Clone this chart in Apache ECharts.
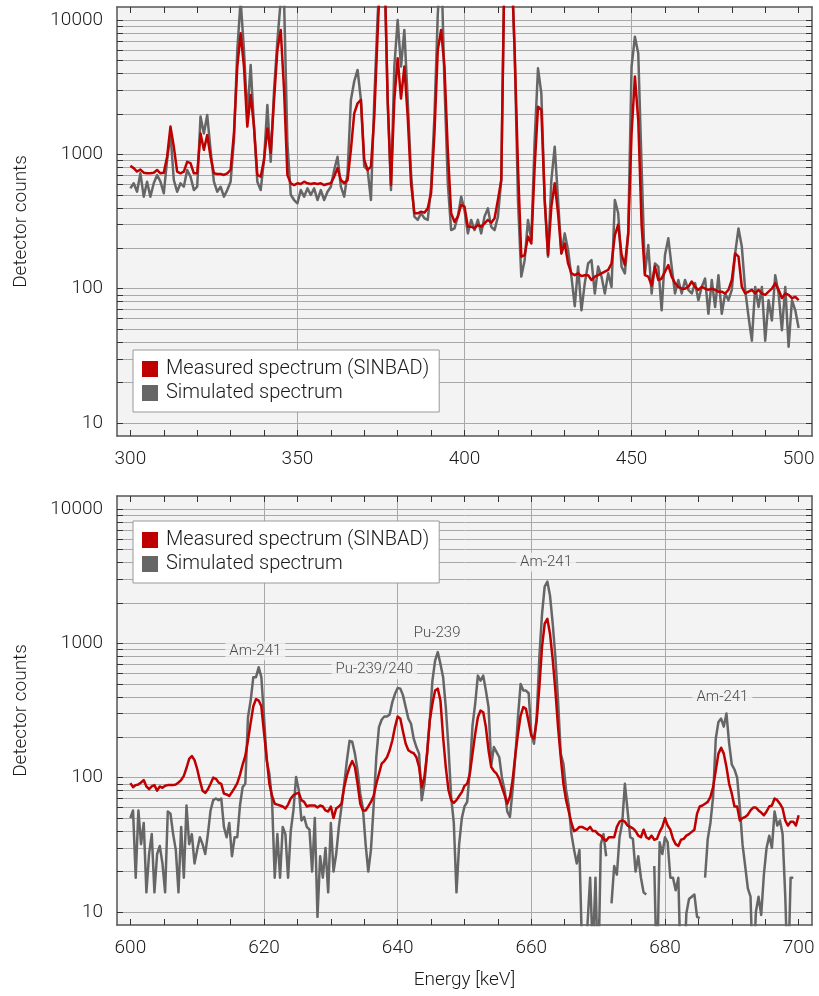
<!DOCTYPE html>
<html>
<head>
<meta charset="utf-8">
<script src="https://cdn.jsdelivr.net/npm/echarts/dist/echarts.min.js"></script>
<style>
  html, body { margin: 0; padding: 0; background: #fff; }
  #chart { width: 819px; height: 996px; }
</style>
</head>
<body>
<div id="chart"></div>
<script>
// energy bins: top panel 1 keV, bottom panel 0.4 keV
const topStart = 300, topStep = 1;
const botStart = 600, botStep = 0.4;

// top panel, 300..500 keV
const topMeasured = [
  820, 790, 745, 770, 730, 722, 722, 730, 765, 722,
  730, 960, 1610, 1140, 743, 722, 743, 880, 860, 722,
  722, 1430, 1080, 1390, 960, 722, 714, 714, 702, 722,
  765, 1430, 4500, 7960, 4500, 1610, 2770, 1610, 702, 682,
  910, 1560, 1020, 2540, 5980, 8430, 3000, 700, 609, 591,
  609, 602, 626, 609, 602, 609, 602, 609, 591, 602,
  609, 682, 790, 644, 609, 644, 1080, 2020, 2400, 2540,
  910, 765, 810, 1910, 7960, 30000, 30000, 2540, 591, 2540,
  5190, 2600, 4500, 1910, 609, 364, 364, 374, 368, 396,
  513, 1430, 5980, 8430, 4500, 1080, 364, 315, 344, 420,
  408, 289, 289, 281, 298, 289, 306, 325, 310, 334,
  457, 644, 30000, 30000, 30000, 5980, 810, 173, 178, 244,
  217, 810, 2260, 2140, 457, 178, 408, 609, 364, 183,
  217, 154, 130, 126, 130, 124, 126, 126, 116, 123,
  126, 130, 134, 138, 154, 250, 300, 180, 150, 258,
  1430, 3790, 1800, 300, 126, 123, 106, 146, 116, 119,
  134, 150, 123, 110, 103, 100, 100, 103, 113, 103,
  98, 103, 100, 98, 100, 98, 95, 95, 92, 98,
  116, 183, 173, 103, 92, 95, 98, 92, 98, 92,
  90, 95, 100, 110, 98, 85, 92, 90, 85, 87,
  82
];
const topSimulated = [
  558, 609, 527, 722, 484, 626, 484, 609, 702, 626,
  513, 910, 1430, 644, 527, 609, 574, 765, 682, 542,
  574, 1910, 1430, 1960, 1080, 626, 527, 574, 484, 542,
  626, 1280, 5980, 14000, 5980, 1910, 4630, 1610, 626, 542,
  910, 2330, 880, 3000, 7000, 14000, 14000, 1200, 500, 457,
  432, 542, 484, 558, 498, 558, 457, 542, 457, 527,
  574, 765, 960, 574, 484, 722, 2540, 3500, 4250, 2540,
  810, 765, 457, 2540, 10590, 30000, 30000, 2540, 542, 4500,
  10000, 4500, 8430, 2540, 722, 344, 325, 364, 334, 325,
  574, 1910, 11000, 30000, 3380, 609, 273, 281, 344, 484,
  385, 258, 325, 273, 325, 258, 344, 396, 289, 273,
  344, 644, 30000, 30000, 30000, 5980, 457, 123, 163, 325,
  230, 1280, 4370, 2840, 457, 173, 644, 1140, 457, 183,
  258, 194, 123, 74, 146, 69, 110, 154, 163, 92,
  146, 123, 92, 130, 103, 457, 364, 146, 130, 258,
  4500, 7520, 5650, 810, 130, 211, 92, 154, 146, 69,
  178, 237, 146, 92, 116, 92, 116, 98, 92, 110,
  82, 103, 119, 65, 116, 73, 126, 65, 92, 82,
  98, 183, 281, 205, 98, 62, 41, 103, 73, 103,
  41, 82, 58, 126, 92, 49, 103, 37, 82, 69,
  51
];

// bottom panel, 600..700 keV (null = empty bin)
const botMeasured = [
  91, 85, 88, 89, 92, 96, 86, 82, 86, 88,
  80, 86, 84, 87, 88, 88, 88, 89, 92, 96,
  103, 118, 138, 145, 135, 116, 95, 80, 77, 82,
  90, 100, 98, 92, 90, 76, 75, 73, 78, 84,
  91, 105, 125, 145, 190, 256, 340, 384, 375, 340,
  216, 140, 90, 73, 64, 63, 62, 61, 59, 63,
  70, 74, 76, 77, 68, 66, 61, 62, 62, 62,
  60, 62, 61, 57, 56, 61, 50, 59, 61, 64,
  85, 104, 120, 133, 120, 90, 64, 57, 57, 61,
  66, 73, 90, 107, 127, 133, 142, 160, 189, 238,
  285, 275, 220, 179, 160, 155, 152, 142, 120, 85,
  101, 151, 266, 355, 445, 460, 375, 200, 120, 81,
  68, 65, 68, 73, 78, 87, 90, 107, 151, 212,
  282, 316, 307, 238, 160, 120, 112, 107, 98, 85,
  74, 64, 72, 96, 147, 212, 290, 335, 325, 260,
  205, 195, 266, 471, 940, 1400, 1520, 1172, 760, 445,
  238, 142, 90, 68, 56, 46, 40, 41, 43, 43,
  42, 41, 43, 40, 40, 38, 37, 35, 34, 36,
  36, 36, 43, 47, 48, 47, 44, 43, 42, 40,
  37, 36, 41, 36, 35, 37, 34.5, 35, 39.5, 43,
  50, 44, 41, 35, 32, 31, 34.5, 35, 37, 38,
  39.5, 41, 54, 61, 62, 64, 66, 72, 85, 113,
  151, 167, 151, 120, 90, 76, 61, 61, 48, 50,
  51, 53, 57, 60, 60, 57, 55, 52.5, 56, 61,
  62, 70, 68, 64, 59, 48, 44, 47, 47, 44,
  52.5
];
const botSimulated = [
  50, 57, 18, 57, 32, 46, 14, 27, 38, 14,
  27, 31, 23, 14, 56, 54, 38, 29, 14, 43,
  18, 62, 32, 38, 23, 29, 36, 32, 27, 38,
  57, 68, 70, 68, 70, 43, 36, 46, 26, 36,
  36, 62, 85, 90, 282, 375, 560, 560, 663, 560,
  282, 134, 107, 68, 18, 38, 18, 43, 38, 18,
  40, 57, 101, 81, 48, 51, 43, 41, 20, 50,
  9.2, 26, 18, 30, 14, 46, 20, 27, 43, 61,
  90, 134, 188, 185, 151, 113, 76, 59, 32, 20,
  29, 61, 142, 238, 270, 285, 285, 295, 365, 421,
  465, 460, 410, 335, 275, 252, 195, 169, 151, 68,
  90, 151, 266, 528, 743, 860, 703, 560, 335, 169,
  72, 46, 14, 32, 50, 61, 66, 113, 245, 355,
  575, 528, 575, 445, 335, 124, 169, 155, 142, 100,
  81, 56, 51, 81, 142, 282, 499, 445, 445, 425,
  212, 179, 282, 787, 1650, 2650, 2880, 2260, 1400, 787,
  375, 151, 127, 81, 62, 38, 29, 23, 29, 5,
  3, 8, 18, 5, 18, 3, 32, 38, 26, null,
  11.6, 22, 19, 36, 46, 90, 57, 36, 35, 20,
  26, 18, 14, 13.5, null, null, 22, 3, 33, 27,
  36, 33, 18, 18, 14.5, 18, 3, 3, 9.8, 12.5,
  13, 13.5, 9.2, 9, null, 18, 35, 46, 72, 195,
  260, 275, 240, 300, 180, 125, 115, 100, 60, 32,
  22, 15, 13, 3, 10, 13, 9.5, 19, 30, 37,
  30, 56, 44, 48, 38, 13, 3, 18, 18, null,
  null
];

// axis ticks / labels
const topTicks = [300, 310, 320, 330, 340, 350, 360, 370, 380, 390, 400,
  410, 420, 430, 440, 450, 460, 470, 480, 490, 500];
const topLabels = [300, 350, 400, 450, 500];
const topGridX = [350, 400, 450];
const botTicks = [600, 605, 610, 615, 620, 625, 630, 635, 640, 645, 650,
  655, 660, 665, 670, 675, 680, 685, 690, 695, 700];
const botLabels = [600, 620, 640, 660, 680, 700];
const botGridX = [620, 640, 660, 680];
const yLabels = [10, 100, 1000, 10000];
const yTicks = [10, 20, 30, 40, 50, 60, 70, 80, 90,
  100, 200, 300, 400, 500, 600, 700, 800, 900,
  1000, 2000, 3000, 4000, 5000, 6000, 7000, 8000, 9000, 10000];

// peak annotations (bottom panel)
const peakNames = ['Am-241', 'Pu-239/240', 'Pu-239', 'Am-241', 'Am-241'];
const peakX = [618.7, 636.5, 645.9, 662.2, 688.6];
const peakY = [880, 637, 1190, 4010, 398];

const seriesNames = ['Measured spectrum (SINBAD)', 'Simulated spectrum'];
const red = '#c00000';
const gray = '#666666';
const frameColor = '#555';
const gridColor = '#a8a8a8';
const font = 'Roboto';
const textColor = '#1a1a1a';

function toPairs(start, step, values) {
  return values.map((v, i) => [+(start + i * step).toFixed(2), v == null ? '-' : v]);
}

function xAxesFor(grid, min, max, ticks, labels, gridLines, name) {
  const base = { type: 'value', gridIndex: grid, min: min, max: max };
  const frame = { show: true, onZero: false, lineStyle: { color: frameColor, width: 1.5 } };
  const tick = { show: true, inside: true, length: 6, customValues: ticks, lineStyle: { color: '#333' } };
  return [
    Object.assign({}, base, {
      position: 'bottom',
      axisLine: frame,
      axisTick: tick,
      axisLabel: { show: true, customValues: labels, margin: 14, fontSize: 19,
        fontFamily: font, fontWeight: 300, color: textColor },
      splitLine: { show: false },
      name: name,
      nameLocation: 'middle',
      nameGap: 46,
      nameTextStyle: { fontSize: 19, fontFamily: font, fontWeight: 300, color: textColor }
    }),
    Object.assign({}, base, {
      position: 'top',
      axisLine: frame,
      axisTick: tick,
      axisLabel: { show: false },
      splitLine: { show: false }
    }),
    // only used for the vertical grid lines
    Object.assign({}, base, {
      position: 'bottom',
      axisLine: { show: false },
      axisTick: { show: false, customValues: gridLines },
      axisLabel: { show: false, customValues: gridLines },
      splitLine: { show: true, lineStyle: { color: gridColor, width: 1 } }
    })
  ];
}

function yAxesFor(grid) {
  const base = { type: 'log', logBase: 10, gridIndex: grid, min: 8, max: 12500 };
  const frame = { show: true, onZero: false, lineStyle: { color: frameColor, width: 1.5 } };
  const tick = { show: true, inside: true, length: 6, customValues: yTicks, lineStyle: { color: '#333' } };
  return [
    Object.assign({}, base, {
      position: 'left',
      axisLine: frame,
      axisTick: tick,
      axisLabel: { show: true, customValues: yLabels, margin: 14, fontSize: 19,
        fontFamily: font, fontWeight: 300, color: textColor,
        formatter: v => String(Math.round(v)) },
      splitLine: { show: true, lineStyle: { color: gridColor, width: 1 } },
      name: 'Detector counts',
      nameLocation: 'middle',
      nameGap: 86,
      nameTextStyle: { fontSize: 19, fontFamily: font, fontWeight: 300, color: textColor }
    }),
    Object.assign({}, base, {
      position: 'right',
      axisLine: frame,
      axisTick: tick,
      axisLabel: { show: false },
      splitLine: { show: false }
    })
  ];
}

function legendAt(top) {
  return {
    data: seriesNames,
    left: 133,
    top: top,
    orient: 'vertical',
    icon: 'rect',
    itemWidth: 16,
    itemHeight: 16,
    itemGap: 4,
    padding: [9, 10, 9, 9],
    backgroundColor: '#fff',
    borderColor: '#999',
    borderWidth: 1,
    borderRadius: 0,
    selectedMode: false,
    textStyle: { fontSize: 20, fontFamily: font, fontWeight: 300,
      color: textColor, padding: [0, 0, 0, 3] }
  };
}

function lineSeries(name, color, data, xIdx, yIdx, z) {
  return {
    name: name,
    type: 'line',
    xAxisIndex: xIdx,
    yAxisIndex: yIdx,
    data: data,
    showSymbol: false,
    symbol: 'none',
    connectNulls: false,
    clip: true,
    z: z,
    color: color,
    lineStyle: { color: color, width: 2.5, join: 'round' },
    emphasis: { disabled: true }
  };
}

const chart = echarts.init(document.getElementById('chart'), null, { renderer: 'canvas' });

chart.setOption({
  animation: false,
  backgroundColor: '#fff',
  grid: [
    { left: 117, top: 7, width: 695, height: 429, show: true, backgroundColor: '#f3f3f3', borderWidth: 0 },
    { left: 117, top: 496, width: 695, height: 429, show: true, backgroundColor: '#f3f3f3', borderWidth: 0 }
  ],
  legend: [legendAt(350), legendAt(521)],
  xAxis: xAxesFor(0, 296, 504, topTicks, topLabels, topGridX, '')
    .concat(xAxesFor(1, 598, 702, botTicks, botLabels, botGridX, 'Energy [keV]')),
  yAxis: yAxesFor(0).concat(yAxesFor(1)),
  series: [
    lineSeries(seriesNames[1], gray, toPairs(topStart, topStep, topSimulated), 0, 0, 2),
    lineSeries(seriesNames[0], red, toPairs(topStart, topStep, topMeasured), 0, 0, 3),
    lineSeries(seriesNames[1], gray, toPairs(botStart, botStep, botSimulated), 3, 2, 2),
    lineSeries(seriesNames[0], red, toPairs(botStart, botStep, botMeasured), 3, 2, 3),
    {
      type: 'scatter',
      xAxisIndex: 3,
      yAxisIndex: 2,
      silent: true,
      z: 4,
      symbolSize: 1,
      itemStyle: { color: 'rgba(0,0,0,0)' },
      data: peakX.map((x, i) => [x, peakY[i], peakNames[i]]),
      label: {
        show: true,
        position: 'inside',
        formatter: p => p.data[2],
        fontSize: 15,
        fontFamily: font,
        fontWeight: 300,
        color: textColor,
        backgroundColor: '#f3f3f3',
        padding: [2, 4]
      }
    }
  ]
});
</script>
</body>
</html>
